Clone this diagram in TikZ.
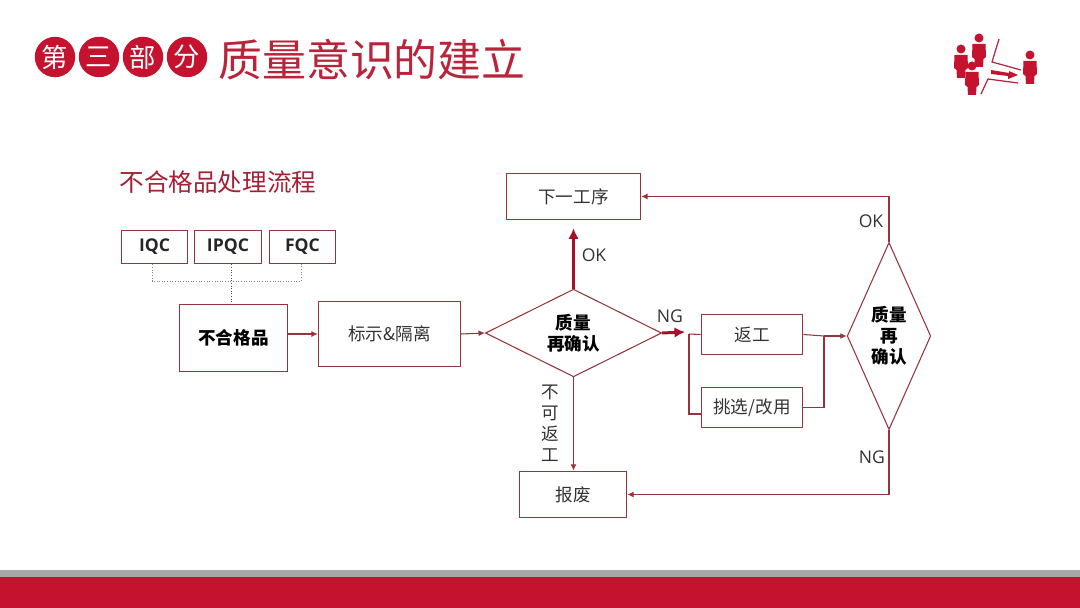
\documentclass[tikz,border=0pt]{standalone}
\usepackage{fontspec}
\setmainfont{Noto Sans CJK SC}
\newfontfamily\latinfont{Open Sans}
\usetikzlibrary{shapes.geometric,arrows.meta}
\definecolor{brandred}{HTML}{C4122F}
\definecolor{titlered}{HTML}{B8243A}
\definecolor{edgered}{HTML}{96343E}
\definecolor{inkgrey}{HTML}{333333}
\tikzset{
  >={Latex[length=3.6pt,width=3.4pt]},
  box/.style={draw=edgered,line width=.6pt,text=inkgrey,inner sep=0pt},
  qcbox/.style={box,text=black!85,minimum width=38pt,minimum height=19.3pt,font=\latinfont\bfseries},
  check/.style={box,diamond,aspect=.45,align=center,text=black,font=\bfseries},
  flow/.style={draw=edgered,line width=.6pt},
  bigflow/.style={draw=brandred!85!black,line width=1.7pt,-{Latex[length=6pt,width=6pt]}},
  dotline/.style={draw=gray,line width=.5pt,densely dotted},
  badge/.style={circle,fill=brandred,text=white,minimum size=23pt,inner sep=0pt,font=\fontsize{15}{15}\selectfont},
  tag/.style={text=inkgrey,inner sep=0pt,font=\latinfont}
}
\begin{document}
\begin{tikzpicture} [x=.02cm,y=-.02cm]%px
\useasboundingbox (0,0) rectangle (1080,608);
\fill [white] (0,0) rectangle (1080,608);
\fill [gray!70] (0,570) rectangle (1080,577);
\fill [brandred] (0,577) rectangle (1080,608);

\node [badge] (b1) at (55,57){第};
\node [badge] (b2) at (99,57){三};
\node [badge] (b3) at (143,57){部};
\node [badge] (b4) at (187,57){分};
\node [text=titlered,inner sep=0pt,font=\fontsize{25}{25}\selectfont] (title) at (372,60){质量意识的建立};
\node [text=titlered!90!black,inner sep=0pt,font=\fontsize{14}{14}\selectfont] (sub) at (218,182){不合格品处理流程};

%icon
\foreach \px/\py in {961/49,979/38,972/66,1030/55} {
\fill [brandred] (\px,\py) circle (4.5);
\fill [brandred] (\px-6.5,\py+6) -- (\px+6.5,\py+6) -- (\px+7,\py+19) -- (\px+4.5,\py+21) -- (\px+4,\py+29) -- (\px-4,\py+29) -- (\px-4.5,\py+21) -- (\px-7,\py+19) -- cycle;
}
\draw [line width = .7pt,titlered] (999,39) -- (992,62) -- (1021,70);
\draw [line width = .7pt,titlered] (981,94) -- (988,79) -- (1018,83);
\fill [brandred] (991,70) -- (1009,73) -- (1009,71) -- (1018,75) -- (1008,79) -- (1008,76) -- (991,74) -- cycle;

%boxes
\node [qcbox] (iqc) at (154.5,247){IQC};
\node [qcbox,minimum width=38.5pt] (ipqc) at (228,247){IPQC};
\node [qcbox] (fqc) at (302.5,247){FQC};
\node [box,minimum width=61.8pt,minimum height=38.6pt,text=black,font=\bfseries] (nonconf) at (233.5,338){不合格品};
\node [box,minimum width=81pt,minimum height=37.4pt] (mark) at (389.5,334){标示\&隔离};
\node [box,minimum width=76.5pt,minimum height=26.6pt] (next) at (573.5,196.5){下一工序};
\node [box,minimum width=61.2pt,minimum height=26.6pt] (scrap) at (573,494.5){报废};
\node [box,minimum width=57.8pt,minimum height=23.2pt] (rework) at (752,334.5){返工};
\node [box,minimum width=57.8pt,minimum height=23.2pt] (select) at (752,407.5){挑选/改用};
\node [check,aspect=2,minimum width=100.3pt,minimum height=49.9pt] (check1) at (573.5,333){质量\\再确认};
\node [check,minimum width=47.6pt,minimum height=106.5pt] (check2) at (889,336){质量\\再\\确认};

%dotted
\coordinate (dotl) at (152,281);
\coordinate (dotm) at (231,281);
\coordinate (dotr) at (301,281);
\draw [dotline] (dotl |- iqc.south) -- (dotl) -- (dotr) -- (dotr |- fqc.south);
\draw [dotline,draw=gray!60!black] (dotm |- ipqc.south) -- (dotm |- nonconf.north);

%flow
\draw [flow,->] (nonconf.east |- mark.west) -- (mark.west);
\draw [flow,->] (mark.east) -- (check1.west);
\draw [bigflow,shorten >=4.5pt] (check1.north) -- (check1.north |- next.south);
\coordinate (ngtip) at (685,332);
\draw [bigflow] (check1.east) -- (ngtip);
\coordinate (split) at (689,334);
\coordinate (splitlow) at (689,414);
\coordinate (join) at (824,336);
\draw [flow] (split) -- (rework.west);
\draw [flow] (split) -- (splitlow) -- (splitlow -| select.west);
\draw [flow] (rework.east) -- (join);
\draw [flow] (select.east) -| (join);
\draw [flow,->] (join) -- (check2.west);
\draw [flow,->] (check2.north) |- (next.east);
\draw [flow,->] (check2.south) |- (scrap.east);
\draw [flow,->] (check1.south) -- (check1.south |- scrap.north);

%labels
\node [tag] (okup) at (594,255){OK};
\node [tag] (ngright) at (670,316){NG};
\node [tag] (okright) at (871,221){OK};
\node [tag] (ngdown) at (872,457){NG};
\node [tag,font=\rmfamily,align=center] (noback) at (550,423){不\\可\\返\\工};
\end{tikzpicture}
\end{document}
